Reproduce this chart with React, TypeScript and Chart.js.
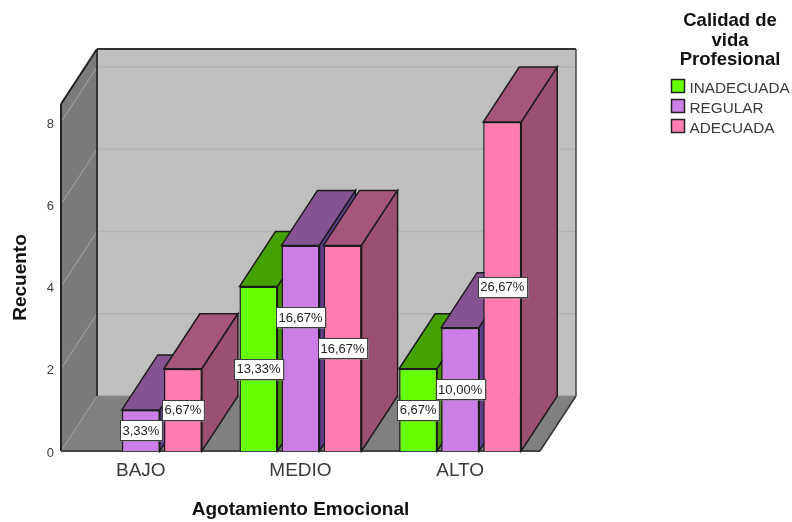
import React, { useEffect, useRef } from "react";
import { Chart, registerables } from "chart.js";

Chart.register(...registerables);

const categories = ["BAJO", "MEDIO", "ALTO"];
const inadecuada = [0, 4, 2];
const regular = [1, 5, 3];
const adecuada = [2, 5, 8];
const seriesNames = ["INADECUADA", "REGULAR", "ADECUADA"];
const legendTitle = ["Calidad de", "vida", "Profesional"];
const respondents = 30;

// Face shades for each series: front, top, side.
const frontColors = ["#66ff00", "#cb7fe6", "#ff7db1"];
const topColors = ["#44a100", "#855292", "#a5567a"];
const sideColors = ["#3f9400", "#5f3c8c", "#9b5071"];

const SANS = "'Liberation Sans', Arial, sans-serif";
const DEPTH_X = 36;
const DEPTH_Y = 55;
const EDGE = "#1c1c1c";
const LABEL_LIFT = 31;

function poly(ctx: CanvasRenderingContext2D, pts: number[][], fill: string | null, stroke: string | null, width = 1.5) {
  ctx.beginPath();
  pts.forEach(([x, y], i) => (i ? ctx.lineTo(x, y) : ctx.moveTo(x, y)));
  ctx.closePath();
  if (fill) {
    ctx.fillStyle = fill;
    ctx.fill();
  }
  if (stroke) {
    ctx.strokeStyle = stroke;
    ctx.lineWidth = width;
    ctx.stroke();
  }
}

function line(ctx: CanvasRenderingContext2D, x1: number, y1: number, x2: number, y2: number, color: string, width: number) {
  ctx.beginPath();
  ctx.moveTo(x1, y1);
  ctx.lineTo(x2, y2);
  ctx.strokeStyle = color;
  ctx.lineWidth = width;
  ctx.stroke();
}

// Back wall, side wall and floor of the box, then the bars from left to right
// so that each bar's front hides the extruded side of its left neighbour.
const boxPlugin = {
  id: "box",
  beforeDatasetsDraw(chart: any) {
    const { ctx, chartArea: a, scales } = chart;
    const { left: l, right: r, top: t, bottom: b } = a;
    const dx = DEPTH_X;
    const dy = DEPTH_Y;
    ctx.save();
    poly(ctx, [[l + dx, t - dy], [r + dx, t - dy], [r + dx, b - dy], [l + dx, b - dy]], "#bfbfbf", null);
    poly(ctx, [[l, t], [l + dx, t - dy], [l + dx, b - dy], [l, b]], "#7b7b7b", null);
    poly(ctx, [[l, b], [l + dx, b - dy], [r + dx, b - dy], [r, b]], "#808080", null);
    for (const tick of scales.y.ticks) {
      const y = scales.y.getPixelForValue(tick.value);
      if (tick.value === 0) {
        ctx.setLineDash([1, 1]);
        line(ctx, l, y, l + dx, y - dy, "#a8a8a8", 1);
        ctx.setLineDash([]);
        continue;
      }
      line(ctx, l + dx, y - dy, r + dx, y - dy, "#b2b2b2", 1.5);
      line(ctx, l, y, l + dx, y - dy, "#a6a6a6", 1);
    }
    line(ctx, l + dx, b - dy, r + dx, b - dy, "#8e8e8e", 1);
    line(ctx, l + dx, t - dy, r + dx, t - dy, "#333333", 2);
    line(ctx, r + dx, t - dy, r + dx, b - dy, "#444444", 1.5);
    line(ctx, l + dx, t - dy, l + dx, b - dy, "#333333", 2);
    line(ctx, l, t, l + dx, t - dy, "#222222", 2);
    line(ctx, l, t, l, b, "#222222", 2);
    line(ctx, r, b, r + dx, b - dy, "#333333", 1.5);
    line(ctx, l, b, r, b, "#444444", 2);

    chart.data.datasets.forEach((_: any, i: number) => {
      const meta = chart.getDatasetMeta(i);
      for (const el of meta.data) {
        const { x, y, base, width } = el.getProps(["x", "y", "base", "width"], true);
        if (Math.abs(base - y) < 0.5) continue;
        const L = x - width / 2;
        const R = x + width / 2;
        poly(ctx, [[L, y], [L + dx, y - dy], [R + dx, y - dy], [R, y]], topColors[i], EDGE);
        poly(ctx, [[R, y], [R + dx, y - dy], [R + dx, base - dy], [R, base]], sideColors[i], EDGE);
        el.draw(ctx);
      }
    });
    ctx.restore();
  },
  // The bars were painted above in depth order; skip the default pass.
  beforeDatasetDraw() {
    return false;
  },
};

// Percentage tags on the bars, and the legend block at the right.
const annotationPlugin = {
  id: "annotations",
  afterDatasetsDraw(chart: any) {
    const { ctx, data } = chart;
    ctx.save();
    ctx.font = `13px ${SANS}`;
    ctx.textAlign = "center";
    ctx.textBaseline = "middle";
    data.datasets.forEach((ds: any, i: number) => {
      const meta = chart.getDatasetMeta(i);
      meta.data.forEach((el: any, c: number) => {
        const value = ds.data[c];
        if (!value) return;
        const { x, y, base } = el.getProps(["x", "y", "base"], true);
        const next = data.datasets[i + 1];
        const lift = next && next.data[c] === value ? LABEL_LIFT : 0;
        const cy = (y + base) / 2 - lift;
        const text = ((value / respondents) * 100).toFixed(2).replace(".", ",") + "%";
        const w = ctx.measureText(text).width + 5;
        const bx = Math.round(x - w / 2) + 0.5;
        const by = Math.round(cy - 10) + 0.5;
        ctx.fillStyle = "#8c8c8c";
        ctx.fillRect(bx + 1, by + 1, w, 20);
        ctx.fillStyle = "#ffffff";
        ctx.fillRect(bx, by, w, 20);
        ctx.strokeStyle = "#3c3c3c";
        ctx.lineWidth = 1;
        ctx.strokeRect(bx, by, w, 20);
        ctx.fillStyle = "#222222";
        ctx.fillText(text, x, cy + 1);
      });
    });

    ctx.fillStyle = "#111111";
    ctx.font = `bold 18.5px ${SANS}`;
    legendTitle.forEach((t, i) => ctx.fillText(t, 730, 21 + i * 19.5));
    seriesNames.forEach((name, i) => {
      const cy = 87 + i * 20;
      ctx.fillStyle = frontColors[i];
      ctx.fillRect(671.5, cy - 7.5, 13, 13);
      ctx.strokeStyle = "#222222";
      ctx.lineWidth = 1.5;
      ctx.strokeRect(671.5, cy - 7.5, 13, 13);
      ctx.fillStyle = "#3a3a3a";
      ctx.font = `15.3px ${SANS}`;
      ctx.textAlign = "left";
      ctx.fillText(name, 689.5, cy + 2);
    });
    ctx.restore();
  },
};

export default function App() {
  const ref = useRef<HTMLCanvasElement>(null);

  useEffect(() => {
    const series = [inadecuada, regular, adecuada];
    const chart = new Chart(ref.current!, {
      type: "bar",
      data: {
        labels: categories,
        datasets: series.map((values, i) => ({
          label: seriesNames[i],
          data: values,
          backgroundColor: frontColors[i],
          borderColor: EDGE,
          borderWidth: 1.5,
          categoryPercentage: 0.79,
          barPercentage: 0.905,
        })),
      },
      options: {
        responsive: false,
        animation: false,
        layout: { padding: { top: 104, right: 252, left: 0, bottom: 0 } },
        plugins: { legend: { display: false }, tooltip: { enabled: false }, title: { display: false } },
        scales: {
          x: {
            grid: { display: false, drawTicks: false },
            border: { display: false },
            ticks: { color: "#3a3a3a", font: { family: SANS, size: 19 }, padding: 8, maxRotation: 0 },
            title: {
              display: true,
              text: "Agotamiento Emocional",
              color: "#111111",
              font: { family: SANS, size: 19, weight: "bold" },
              padding: { top: 0, bottom: 1 },
            },
            afterFit(scale: any) {
              scale.height = 71;
            },
          },
          y: {
            min: 0,
            max: 8.44,
            grid: { display: false, drawTicks: false },
            border: { display: false },
            ticks: {
              stepSize: 2,
              includeBounds: false,
              color: "#3a3a3a",
              font: { family: SANS, size: 13 },
              padding: 7,
              labelOffset: 2,
            },
            title: {
              display: true,
              text: "Recuento",
              color: "#111111",
              font: { family: SANS, size: 19, weight: "bold" },
              padding: { top: 9, bottom: 0 },
            },
            afterFit(scale: any) {
              scale.width = 61;
            },
          },
        },
      },
      plugins: [boxPlugin, annotationPlugin],
    } as any);
    return () => chart.destroy();
  }, []);

  return (
    <canvas
      ref={ref}
      width={792}
      height={522}
      style={{ position: "absolute", left: 0, top: 0, width: 792, height: 522 }}
    />
  );
}
